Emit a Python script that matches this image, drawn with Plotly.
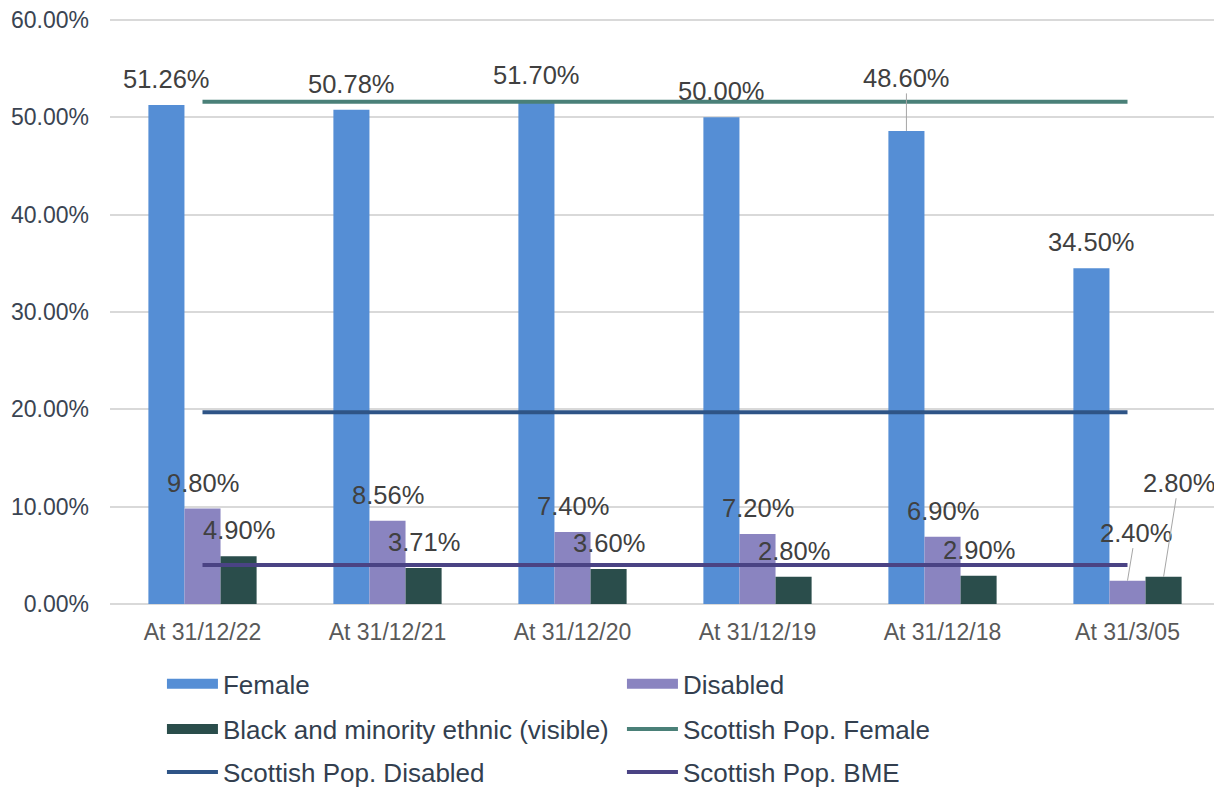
import plotly.graph_objects as go

categories = ["At 31/12/22", "At 31/12/21", "At 31/12/20", "At 31/12/19", "At 31/12/18", "At 31/3/05"]
female = [51.26, 50.78, 51.70, 50.00, 48.60, 34.50]
disabled = [9.80, 8.56, 7.40, 7.20, 6.90, 2.40]
bme = [4.90, 3.71, 3.60, 2.80, 2.90, 2.80]
scot_female = [51.6] * 6
scot_disabled = [19.7] * 6
scot_bme = [4.0] * 6
y_ticks = [0, 10, 20, 30, 40, 50, 60]

FONT = "Liberation Sans, Arial, sans-serif"
C_F, C_D, C_B = "#558ED5", "#8A84C0", "#2A4D4B"
C_SF, C_SD, C_SB = "#4A8078", "#2E5486", "#4A4384"

fig = go.Figure()
for name, vals, col in [("Female", female, C_F), ("Disabled", disabled, C_D),
                        ("Black and minority ethnic (visible)", bme, C_B)]:
    fig.add_trace(go.Bar(x=categories, y=vals, name=name, marker_color=col,
                         marker_line_width=0, showlegend=False))

# legend proxies for bar series (wide rectangles like the original)
proxies = [("Female", C_F, "legend"), ("Disabled", C_D, "legend"),
           ("Black and minority ethnic (visible)", C_B, "legend2")]
for name, col, lg in proxies:
    fig.add_trace(go.Scatter(x=[None], y=[None], mode="lines", name=name,
                             line=dict(color=col, width=13), legend=lg))

for name, vals, col, lg in [("Scottish Pop. Female", scot_female, C_SF, "legend2"),
                            ("Scottish Pop. Disabled", scot_disabled, C_SD, "legend3"),
                            ("Scottish Pop. BME", scot_bme, C_SB, "legend3")]:
    fig.add_trace(go.Scatter(x=categories, y=vals, mode="lines", name=name,
                             line=dict(color=col, width=4), legend=lg))

# data labels
w = (1 - 0.415) / 3
ann = []
lab_font = dict(family=FONT, size=25.5, color="#404040")
leader = {(0, 4): (0, -53), (1, 5): (8, -48), (2, 5): (15, -94)}
for s, vals in enumerate([female, disabled, bme]):
    off = (s - 1) * w
    for i, v in enumerate(vals):
        txt = f"{v:.2f}%"
        if (s, i) in leader:
            ax, ay = leader[(s, i)]
            ann.append(dict(x=i + off, y=v, xref="x", yref="y", text=txt, showarrow=True,
                            arrowhead=0, arrowwidth=1, arrowcolor="#A6A6A6", ax=ax, ay=ay,
                            font=lab_font, standoff=0))
        else:
            ann.append(dict(x=i + off, y=v, xref="x", yref="y", text=txt, showarrow=False,
                            yanchor="middle", yshift=26, font=lab_font))

leg_common = dict(orientation="h", x=0.0468, xanchor="left", yanchor="middle", yref="container",
                  entrywidth=394, entrywidthmode="pixels", itemwidth=51,
                  font=dict(family=FONT, size=26, color="#333F4F"), bgcolor="rgba(0,0,0,0)")

fig.update_layout(
    width=1214, height=782,
    margin=dict(l=102, r=2, t=9, b=186, autoexpand=False),
    paper_bgcolor="white", plot_bgcolor="white",
    barmode="group", bargap=0.415, bargroupgap=0,
    font=dict(family=FONT),
    annotations=ann,
    legend=dict(leg_common, y=0.1356),
    legend2=dict(leg_common, y=0.0780),
    legend3=dict(leg_common, y=0.0230),
)
fig.update_xaxes(type="category", showgrid=False, showline=False, ticks="",
                 ticklabelstandoff=12,
                 tickfont=dict(family=FONT, size=23, color="#595959"))
fig.update_yaxes(range=[0, 60.3], tickvals=y_ticks, ticktext=[f"{t:.2f}%" for t in y_ticks],
                 showgrid=True, gridcolor="#D9D9D9", gridwidth=1.5,
                 zeroline=True, zerolinecolor="#D9D9D9", zerolinewidth=2,
                 showline=False, ticks="", ticklabelstandoff=20, ticklabeloverflow="allow",
                 tickfont=dict(family=FONT, size=23, color="#3A4452"))

fig.write_html("out.html")
